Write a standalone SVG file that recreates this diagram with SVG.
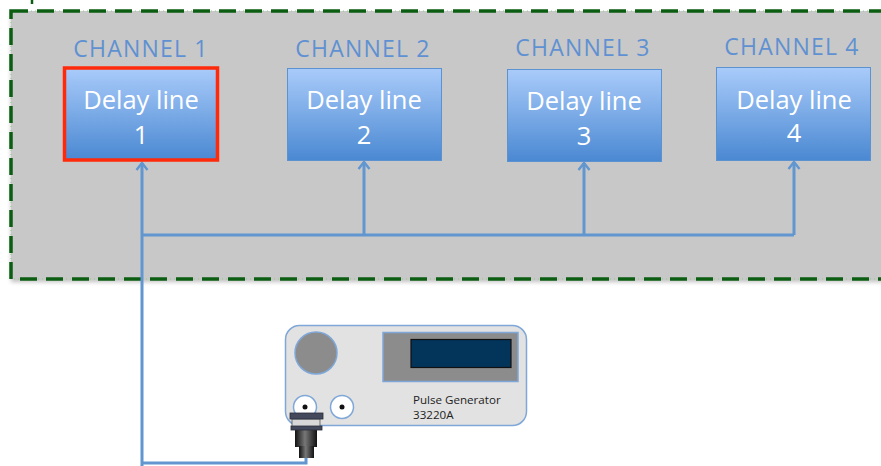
<svg xmlns="http://www.w3.org/2000/svg" width="881" height="466" viewBox="0 0 881 466">
  <defs>
    <linearGradient id="boxFill" x1="0" y1="0" x2="0" y2="1">
      <stop offset="0" stop-color="#a9cbfa"/>
      <stop offset="0.5" stop-color="#7aaae6"/>
      <stop offset="1" stop-color="#4a88d2"/>
    </linearGradient>
    <linearGradient id="plugBody" x1="0" y1="0" x2="1" y2="0">
      <stop offset="0" stop-color="#111"/>
      <stop offset="0.45" stop-color="#777"/>
      <stop offset="1" stop-color="#111"/>
    </linearGradient>
    <!-- open chevron arrowhead, drawn along +x -->
    <marker id="arrow" viewBox="0 0 14 14" refX="12" refY="7" markerWidth="14" markerHeight="14" markerUnits="userSpaceOnUse" orient="auto">
      <path d="M5 1.5 L12 7 L5 12.5" fill="none" stroke="#6196d0" stroke-width="2.4" stroke-linejoin="miter"/>
    </marker>
    <filter id="soft" x="-5%" y="-5%" width="110%" height="115%">
      <feGaussianBlur in="SourceAlpha" stdDeviation="2"/>
      <feOffset dy="3"/>
      <feComponentTransfer><feFuncA type="linear" slope="0.25"/></feComponentTransfer>
      <feMerge><feMergeNode/><feMergeNode in="SourceGraphic"/></feMerge>
    </filter>
    <style>
      .chan { font-family: "Open Sans", "Liberation Sans", sans-serif; font-size: 23px; fill: #5f91d2; text-anchor: middle; letter-spacing: 1.2px; }
      .dl { font-family: "Open Sans", "Liberation Sans", sans-serif; font-size: 25.5px; fill: #ffffff; text-anchor: middle; }
      .box { fill: url(#boxFill); stroke: #5c92d0; stroke-width: 1; }
      .wire { fill: none; stroke: #6196d0; stroke-width: 3; }
      .pg { font-family: "Open Sans", "Liberation Sans", sans-serif; font-size: 11.6px; fill: #222; }
    </style>
  </defs>

  <rect width="881" height="466" fill="#ffffff"/>

  <!-- small tick at top edge -->
  <line x1="32" y1="0" x2="32" y2="4" stroke="#0b5d12" stroke-width="2.5"/>

  <!-- channel frame -->
  <g id="frame">
    <rect x="11" y="11" width="880" height="268" fill="#c8c8c8" filter="url(#soft)"/>
    <rect x="11" y="11" width="880" height="268" fill="none" stroke="#8fc98f" stroke-width="1" stroke-dasharray="1 3"/>
    <rect x="11" y="11" width="880" height="268" fill="none" stroke="#0b5d12" stroke-width="3.5" stroke-dasharray="17 9"/>
  </g>

  <!-- connectors -->
  <g id="connectors">
    <path class="wire" d="M142 466 L142 163" marker-end="url(#arrow)"/>
    <path class="wire" d="M142 235 L794 235"/>
    <path class="wire" d="M364 235 L364 162" marker-end="url(#arrow)"/>
    <path class="wire" d="M584 235 L584 163" marker-end="url(#arrow)"/>
    <path class="wire" d="M794 235 L794 162" marker-end="url(#arrow)"/>
    <path class="wire" d="M142 463 L306 463 L306 456"/>
  </g>

  <g id="channel1">
    <text class="chan" x="141" y="57">CHANNEL 1</text>
    <rect x="64.5" y="68" width="153" height="92" fill="url(#boxFill)" stroke="#ff2a0a" stroke-width="3.5"/>
    <text class="dl" x="141" y="109">Delay line</text>
    <text class="dl" x="141" y="144">1</text>
  </g>

  <g id="channel2">
    <text class="chan" x="363" y="57">CHANNEL 2</text>
    <rect class="box" x="287.5" y="68.5" width="154" height="92"/>
    <text class="dl" x="364" y="109">Delay line</text>
    <text class="dl" x="364" y="144">2</text>
  </g>

  <g id="channel3">
    <text class="chan" x="583" y="56">CHANNEL 3</text>
    <rect class="box" x="507.5" y="69.5" width="154" height="92"/>
    <text class="dl" x="584" y="110">Delay line</text>
    <text class="dl" x="584" y="145">3</text>
  </g>

  <g id="channel4">
    <text class="chan" x="792" y="55">CHANNEL 4</text>
    <rect class="box" x="716.5" y="67.5" width="154" height="93"/>
    <text class="dl" x="794" y="109">Delay line</text>
    <text class="dl" x="794" y="142">4</text>
  </g>

  <!-- pulse generator -->
  <g id="pulse-generator">
    <rect x="285.5" y="325.5" width="241" height="100" rx="14" fill="#e2e2e2" stroke="#7fa7d8" stroke-width="1.5"/>
    <circle cx="316" cy="353" r="21" fill="#8c8c8c" stroke="#7fa7d8" stroke-width="1.5"/>
    <rect x="383" y="332.5" width="135" height="49" fill="#8c8c8c" stroke="#7fa7d8" stroke-width="1.5"/>
    <rect x="411" y="339.5" width="100" height="28" fill="#03345a" stroke="#111" stroke-width="1.2"/>
    <circle cx="305" cy="407" r="11.5" fill="#ffffff" stroke="#7fa7d8" stroke-width="1.5"/>
    <circle cx="305" cy="407" r="2.5" fill="#111"/>
    <circle cx="342" cy="407" r="11.5" fill="#ffffff" stroke="#7fa7d8" stroke-width="1.5"/>
    <circle cx="342" cy="407" r="2.5" fill="#111"/>
    <text class="pg" x="413" y="404">Pulse Generator</text>
    <text class="pg" x="413" y="419">33220A</text>
  </g>

  <!-- BNC plug -->
  <g id="bnc-plug">
    <rect x="295" y="429" width="22" height="18" fill="url(#plugBody)"/>
    <rect x="299" y="446" width="15" height="12" fill="url(#plugBody)"/>
    <rect x="292" y="419" width="28" height="9" fill="#d8d8d8" stroke="#555" stroke-width="0.8"/>
    <rect x="290" y="413" width="33" height="6" fill="#444a5c" stroke="#2a2e3a" stroke-width="0.8"/>
    <rect x="291" y="426" width="31" height="4" fill="#444a5c" stroke="#2a2e3a" stroke-width="0.8"/>
  </g>
</svg>
